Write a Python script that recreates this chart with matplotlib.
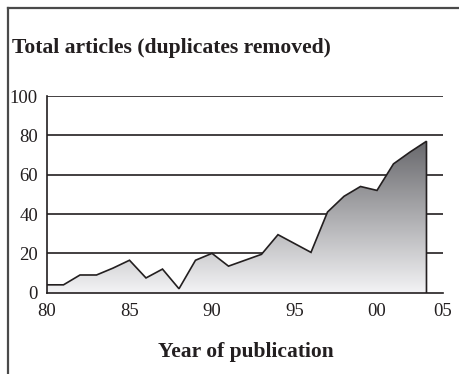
import numpy as np
import matplotlib
matplotlib.use("Agg")
import matplotlib.pyplot as plt
from matplotlib.lines import Line2D
from matplotlib.colors import LinearSegmentedColormap

years = list(range(1980, 2004))
articles = [4, 4, 9, 9, 12.5, 16.5, 7.5, 12, 2, 16.5, 20, 13.5, 16.5, 19.5,
            29.5, 25, 20.5, 41, 49, 54, 52, 65.5, 71.5, 77]
tick_years = [1980, 1985, 1990, 1995, 2000, 2004]
tick_labels = ["80", "85", "90", "95", "00", "05"]
y_ticks = [0, 20, 40, 60, 80, 100]

ink = "#231f20"
plt.rcParams["font.family"] = ["Liberation Serif", "DejaVu Serif"]

fig = plt.figure(figsize=(4.59, 3.74), dpi=100)
ax = fig.add_axes([0.1024, 0.2174, 0.8627, 0.5259])

x = np.array(years, dtype=float)
y = np.array(articles, dtype=float)

# gradient fill under the curve, light at zero, dark at the peak
cmap = LinearSegmentedColormap.from_list("shade", ["#f3f3f5", "#68686c"], N=256)
grad = np.linspace(0, 1, 256).reshape(-1, 1)
top = y.max()
poly = ax.fill_between(x, 0, y, facecolor="none", edgecolor="none")
img = ax.imshow(grad, cmap=cmap, origin="lower", aspect="auto",
                extent=[x[0], x[-1], 0, top], zorder=2)
path = poly.get_paths()[0]
img.set_clip_path(path, transform=ax.transData)

# outline of the area
ax.plot(np.r_[x, x[-1]], np.r_[y, 0], color=ink, lw=1.2, zorder=4,
        solid_joinstyle="miter")

for v in y_ticks[1:]:
    ax.axhline(v, color=ink, lw=1.2, zorder=1)

ax.set_xlim(1980, 2004)
ax.set_ylim(0, 100)
ax.set_xticks(tick_years)
ax.set_xticklabels(tick_labels)
ax.set_yticks(y_ticks)
ax.tick_params(length=0, labelsize=13.5, colors=ink)
ax.tick_params(axis="x", pad=7.5)
ax.tick_params(axis="y", pad=6.5)
for s in ("top", "right"):
    ax.spines[s].set_visible(False)
for s in ("left", "bottom"):
    ax.spines[s].set_color(ink)
    ax.spines[s].set_linewidth(1.2)
    ax.spines[s].set_zorder(5)

fig.text(12 / 459, 1 - 48 / 374, "Total articles (duplicates removed)",
         fontsize=15.6, fontweight="bold", color=ink, va="center", ha="left")
fig.text(246 / 459, 1 - 352 / 374, "Year of publication",
         fontsize=15.5, fontweight="bold", color=ink, va="center", ha="center")

# panel frame (top and left edges)
fy = 1 - 8.3 / 374
fx = 8.3 / 459
fig.add_artist(Line2D([fx, 1], [fy, fy], color="#4a4a4a", lw=1.6, transform=fig.transFigure))
fig.add_artist(Line2D([fx, fx], [0, fy], color="#4a4a4a", lw=1.6, transform=fig.transFigure))

fig.savefig("out.png", dpi=100)
